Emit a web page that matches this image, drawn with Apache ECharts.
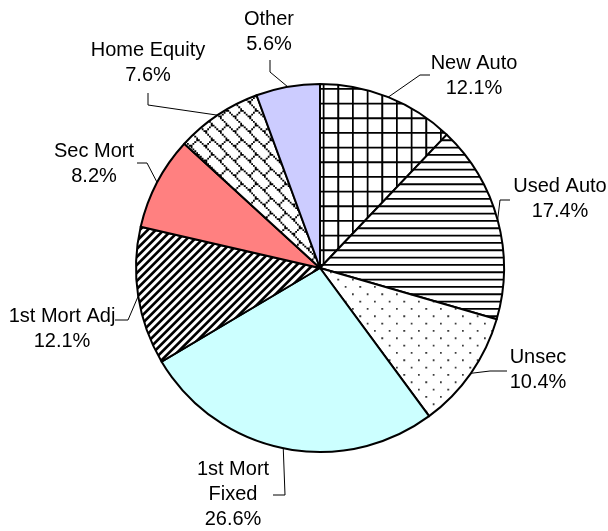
<!DOCTYPE html>
<html><head><meta charset="utf-8">
<script src="https://cdn.jsdelivr.net/npm/echarts@6/dist/echarts.min.js"></script>
<style>html,body{margin:0;padding:0;background:#fff}#c{width:608px;height:531px}</style>
</head><body><div id="c"></div>
<script>
// ---- data ----
const categories = ['New Auto','Used Auto','Unsec','1st Mort Fixed','1st Mort Adj','Sec Mort','Home Equity','Other'];
const shares = [12.1, 17.4, 10.4, 26.6, 12.1, 8.2, 7.6, 5.6];
const labelText = {'1st Mort Fixed': '1st Mort\nFixed'};

// ---- layout (label anchors and leader bends) ----
const labelPos = [[474,76],[560,199],[538,370],[233,494],[62,329],[94,164],[148,63],[269,32]];
const leaderBends = [
  [[420,75],[430,75]],
  [[500,200],[510,200]],
  [[490,371],[507,371]],
  [[285,495],[273,495]],
  [[128,320],[115,320]],
  [[147,163],[137,163]],
  [[148,105],[148,93]],
  [[270,72],[270,60]]
];

// ---- fill patterns ----
const BITMAPS = {
  grid:   [0xFF,0x80,0x80,0x80,0x80,0x80,0x80,0x80],
  hlines: [0xFF,0,0,0,0xFF,0,0,0],
  dots:   [0x80,0,0,0,0x08,0,0,0],
  brick:  [0x80,0x40,0x20,0x10,0x18,0x24,0x42,0x81]
};
function bitmapTest(bits, scale){
  return (u,v) => {
    const bx = Math.floor(u/scale)%8, by = Math.floor(v/scale)%8;
    return (bits[by] & (0x80>>bx)) !== 0;
  };
}
function makePattern(N, test, ink){
  const S = 4;
  const cv = document.createElement('canvas'); cv.width = N; cv.height = N;
  const ctx = cv.getContext('2d'); const img = ctx.createImageData(N, N);
  for (let y=0;y<N;y++) for (let x=0;x<N;x++){
    let cov = 0;
    for (let sy=0;sy<S;sy++) for (let sx=0;sx<S;sx++){
      if (test(x+(sx+0.5)/S, y+(sy+0.5)/S)) cov++;
    }
    const a = cov/(S*S);
    const v = Math.round(255*(1-a) + ink*a);
    const k = (y*N+x)*4;
    img.data[k]=img.data[k+1]=img.data[k+2]=v; img.data[k+3]=255;
  }
  ctx.putImageData(img,0,0);
  return {image: cv, repeat: 'repeat'};
}
const SC = 44/24;
const fills = [
  makePattern(44, bitmapTest(BITMAPS.grid, SC), 0),
  makePattern(44, bitmapTest(BITMAPS.hlines, SC), 0),
  makePattern(44, bitmapTest(BITMAPS.dots, SC), 60),
  '#CCFFFF',
  makePattern(48, (u,v) => ((u+v)%8) < 3.6, 0),
  '#FF8080',
  makePattern(44, bitmapTest(BITMAPS.brick, SC), 0),
  '#CCCCFF'
];

const CX = 320, CY = 268, R = 184;
const total = shares.reduce((a,b)=>a+b,0);
function arcPoint(i){
  let before = 0; for (let j=0;j<i;j++) before += shares[j];
  const ang = (before + shares[i]/2)/total*2*Math.PI;
  return [CX + R*Math.sin(ang), CY - R*Math.cos(ang)];
}

const chart = echarts.init(document.getElementById('c'), null, {renderer:'canvas'});
chart.setOption({
  animation: false,
  backgroundColor: '#fff',
  series: [{
    type: 'pie',
    center: [CX, CY],
    radius: R,
    startAngle: 90,
    clockwise: true,
    avoidLabelOverlap: false,
    emphasis: {disabled: true},
    data: categories.map((n,i)=>({name:n, value:shares[i], itemStyle:{color:fills[i]}})),
    itemStyle: {borderColor:'#000', borderWidth:2},
    label: {
      show: true, position: 'outside',
      formatter: p => (labelText[p.name] || p.name) + '\n' + p.value.toFixed(1) + '%',
      color: '#000', fontFamily: '"Liberation Sans", Arial, sans-serif',
      fontSize: 20, lineHeight: 25, align: 'center'
    },
    labelLine: {show: true, length: 10, length2: 10, lineStyle: {color:'#000', width:1}},
    labelLayout: function(p){
      const i = p.dataIndex;
      const start = (p.labelLinePoints && p.labelLinePoints[0]) ? p.labelLinePoints[0].slice() : arcPoint(i);
      return {
        x: labelPos[i][0], y: labelPos[i][1],
        align: 'center', verticalAlign: 'middle',
        labelLinePoints: [start].concat(leaderBends[i])
      };
    }
  }]
});
</script></body></html>
